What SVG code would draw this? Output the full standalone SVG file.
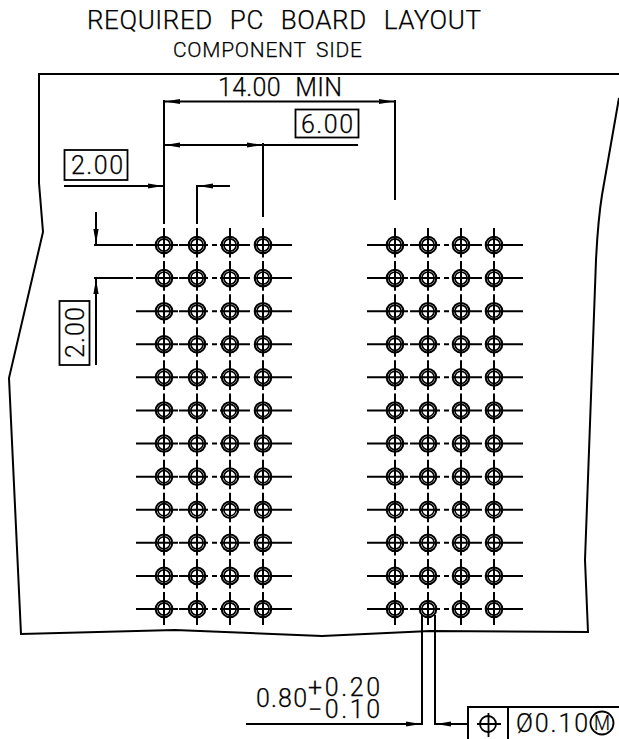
<svg xmlns="http://www.w3.org/2000/svg" width="619" height="739" viewBox="0 0 619 739">
<style>
.l{fill:none;stroke:#000;stroke-width:1.8}
.b{fill:none;stroke:#000;stroke-width:2}
.d{fill:none;stroke:#000;stroke-width:2;stroke-dasharray:29.6 3.49}
.t{font-family:Roboto,"Liberation Sans",Arial,sans-serif;fill:#000;stroke:#000;stroke-width:.25;font-weight:300;font-size:25px}
.a{fill:#000;stroke:none}
</style>
<defs>
<g id="pad"><circle r="8.3" fill="none" stroke="#000" stroke-width="2"/><circle r="6.100" fill="none" stroke="#000" stroke-width="1.600"/></g>
<g id="col"><use href="#pad" y="245"/><use href="#pad" y="278.090"/><use href="#pad" y="311.180"/><use href="#pad" y="344.270"/><use href="#pad" y="377.360"/><use href="#pad" y="410.450"/><use href="#pad" y="443.550"/><use href="#pad" y="476.640"/><use href="#pad" y="509.730"/><use href="#pad" y="542.820"/><use href="#pad" y="575.910"/><use href="#pad" y="609"/></g>
<path id="ah" class="a" d="M0 0L15 -2.600V2.600Z"/>
<path id="rowL" class="b" d="M136 0H178M179 0H208M212 0H217M220 0H250M254 0H292"/>
<path id="rowR" class="b" d="M367 0H408M410 0H440M444 0H449M452 0H482M486 0H523"/>
<g id="rowsL"><use href="#rowL" y="245"/><use href="#rowL" y="278.090"/><use href="#rowL" y="311.180"/><use href="#rowL" y="344.270"/><use href="#rowL" y="377.360"/><use href="#rowL" y="410.450"/><use href="#rowL" y="443.550"/><use href="#rowL" y="476.640"/><use href="#rowL" y="509.730"/><use href="#rowL" y="542.820"/><use href="#rowL" y="575.910"/><use href="#rowL" y="609"/></g>
<g id="rowsR"><use href="#rowR" y="245"/><use href="#rowR" y="278.090"/><use href="#rowR" y="311.180"/><use href="#rowR" y="344.270"/><use href="#rowR" y="377.360"/><use href="#rowR" y="410.450"/><use href="#rowR" y="443.550"/><use href="#rowR" y="476.640"/><use href="#rowR" y="509.730"/><use href="#rowR" y="542.820"/><use href="#rowR" y="575.910"/><use href="#rowR" y="609"/></g>
</defs>
<g id="title">
<text class="t" x="87" y="29" style="font-size:26px;word-spacing:10px" textLength="394" lengthAdjust="spacing">REQUIRED PC BOARD LAYOUT</text>
<text class="t" x="173" y="57" style="font-size:21px;word-spacing:4px" textLength="189" lengthAdjust="spacing">COMPONENT SIDE</text>
</g>
<path id="board" class="b" d="M619 74H39V183L43 232L9 378L21 634L175 630L322 636L430 631L588 632L585 560L596 260Q598 220 602 195L619 98"/>
<g id="centerlines">
<use href="#rowsL"/><use href="#rowsR"/>
<path class="d" d="M164 228V622M197 228V622M230 228V622M263 228V622M395 228V622M428 228V622M461 228V622M494 228V622"/>
<path class="b" d="M164 620V625M197 620V625M230 620V625M263 620V625M395 620V625M428 620V625M461 620V625M494 620V625"/>
</g>
<g id="pads">
<use id="pads-c1" href="#col" x="164"/><use id="pads-c2" href="#col" x="197"/><use id="pads-c3" href="#col" x="230"/><use id="pads-c4" href="#col" x="263"/>
<use id="pads-c5" href="#col" x="395"/><use id="pads-c6" href="#col" x="428"/><use id="pads-c7" href="#col" x="461"/><use id="pads-c8" href="#col" x="494"/>
</g>
<g id="connectors">
<path class="b" d="M164 100V224M197 185V224M263 143V217M395 100V200"/>
<path class="b" d="M164 101.500H395M164 145H358M64 186H163M197 186H230"/>
<path class="b" d="M94 245H133M94 278H133M96 212V244M96 279V365"/>
<path class="b" d="M422 615V725M435 615V725M246 724H421M436 724H468"/>
<use href="#ah" x="165" y="101.500"/><use href="#ah" x="165" y="145"/>
<use href="#ah" transform="translate(394 101.500) rotate(180)"/>
<use href="#ah" transform="translate(262 145) rotate(180)"/>
<use href="#ah" transform="translate(163 186) rotate(180)"/>
<use href="#ah" x="198" y="186"/>
<use href="#ah" transform="translate(96 244) rotate(-90)"/>
<use href="#ah" transform="translate(96 279) rotate(90)"/>
<use href="#ah" transform="translate(421 724) rotate(180)"/>
<use href="#ah" x="436" y="724"/>
</g>
<g id="dim-14"><text class="t" x="218" y="96" style="word-spacing:8px" textLength="124" lengthAdjust="spacing">14.00 MIN</text></g>
<g id="dim-6"><rect class="l" x="295.500" y="109.500" width="63" height="28"/><text class="t" x="301" y="133" textLength="52" lengthAdjust="spacing">6.00</text></g>
<g id="dim-2h"><rect class="l" x="64.500" y="150" width="63" height="30"/><text class="t" x="71" y="174" textLength="52" lengthAdjust="spacing">2.00</text></g>
<g id="dim-2v"><rect class="l" x="59.500" y="301" width="30" height="64"/><text class="t" transform="translate(84 358) rotate(-90)" textLength="51" lengthAdjust="spacing">2.00</text></g>
<g id="dim-080">
<text class="t" x="256" y="707" textLength="51" lengthAdjust="spacing">0.80</text>
<text class="t" x="308" y="696" textLength="72" lengthAdjust="spacing">+0.20</text>
<text class="t" x="308" y="718" textLength="72" lengthAdjust="spacing">−0.10</text>
</g>
<g id="fcf">
<path class="b" d="M619 707H468V739M508 707V739"/>
<circle class="l" cx="488" cy="724" r="8"/>
<path class="l" d="M477 724H501M488.500 713V737"/>
<text class="t" x="516" y="732" textLength="72" lengthAdjust="spacing">Ø0.10</text>
<circle class="l" cx="602" cy="723" r="11.500"/>
<text class="t" x="594" y="730" style="font-size:20px" textLength="16" lengthAdjust="spacingAndGlyphs">M</text>
</g>
</svg>
